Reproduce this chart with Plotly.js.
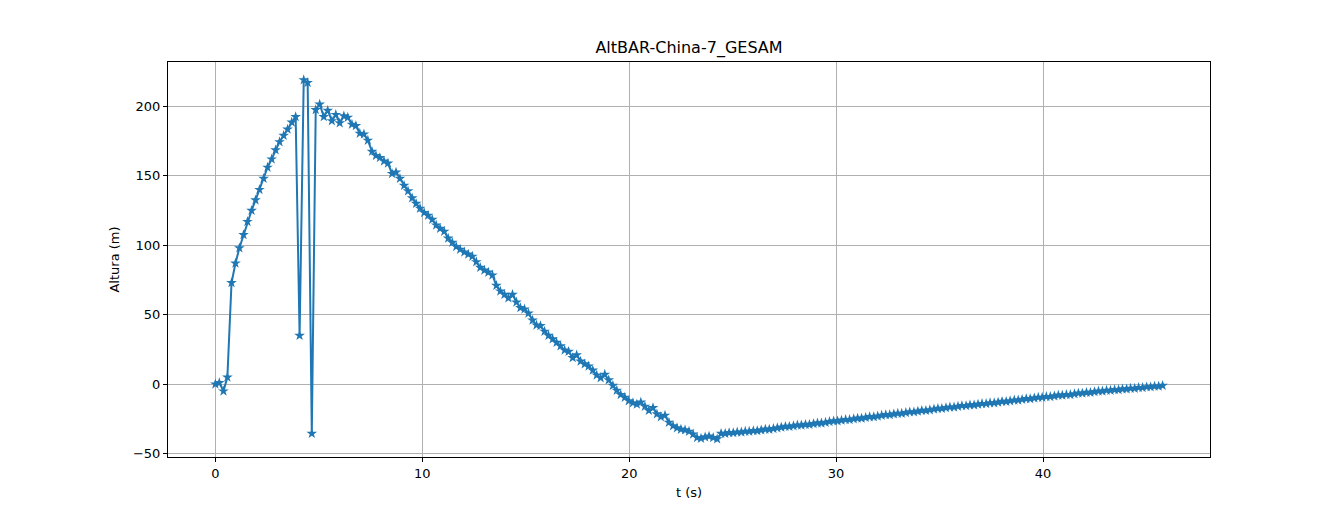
<!DOCTYPE html>
<html>
<head>
<meta charset="utf-8">
<script src="https://cdn.plot.ly/plotly-3.0.1.min.js"></script>
<style>
  html, body { margin: 0; padding: 0; background: white; }
  #chart { width: 1344px; height: 514px; }
</style>
</head>
<body>
<div id="chart"></div>
<script>
// sample times (s)
const tempo = [
  0, 0.19, 0.39, 0.58, 0.78, 0.97, 1.16, 1.36, 1.55, 1.75,
  1.94, 2.13, 2.33, 2.52, 2.72, 2.91, 3.10, 3.30, 3.49, 3.69,
  3.88, 4.07, 4.27, 4.46, 4.66, 4.85, 5.04, 5.24, 5.43, 5.63,
  5.82, 6.01, 6.21, 6.40, 6.60, 6.79, 6.98, 7.18, 7.37, 7.57,
  7.76, 7.95, 8.15, 8.34, 8.54, 8.73, 8.92, 9.12, 9.31, 9.51,
  9.70, 9.89, 10.09, 10.28, 10.48, 10.67, 10.86, 11.06, 11.25, 11.45,
  11.64, 11.83, 12.03, 12.22, 12.42, 12.61, 12.80, 13.00, 13.19, 13.39,
  13.58, 13.77, 13.97, 14.16, 14.36, 14.55, 14.74, 14.94, 15.13, 15.33,
  15.52, 15.71, 15.91, 16.10, 16.30, 16.49, 16.68, 16.88, 17.07, 17.27,
  17.46, 17.65, 17.85, 18.04, 18.24, 18.43, 18.62, 18.82, 19.01, 19.21,
  19.40, 19.59, 19.79, 19.98, 20.18, 20.37, 20.56, 20.76, 20.95, 21.15,
  21.34, 21.53, 21.73, 21.92, 22.12, 22.31, 22.50, 22.70, 22.89, 23.09,
  23.28, 23.47, 23.67, 23.86, 24.06, 24.25, 24.44, 24.64, 24.83, 25.03,
  25.22, 25.42, 25.61, 25.80, 26.00, 26.19, 26.38, 26.58, 26.77, 26.97,
  27.16, 27.35, 27.55, 27.74, 27.94, 28.13, 28.32, 28.52, 28.71, 28.91,
  29.10, 29.29, 29.49, 29.68, 29.88, 30.07, 30.26, 30.46, 30.65, 30.85,
  31.04, 31.23, 31.43, 31.62, 31.82, 32.01, 32.20, 32.40, 32.59, 32.79,
  32.98, 33.17, 33.37, 33.56, 33.76, 33.95, 34.14, 34.34, 34.53, 34.73,
  34.92, 35.11, 35.31, 35.50, 35.70, 35.89, 36.08, 36.28, 36.47, 36.67,
  36.86, 37.05, 37.25, 37.44, 37.64, 37.83, 38.02, 38.22, 38.41, 38.61,
  38.80, 38.99, 39.19, 39.38, 39.58, 39.77, 39.96, 40.16, 40.35, 40.55,
  40.74, 40.93, 41.13, 41.32, 41.52, 41.71, 41.90, 42.10, 42.29, 42.49,
  42.68, 42.87, 43.07, 43.26, 43.46, 43.65, 43.84, 44.04, 44.23, 44.43,
  44.62, 44.81, 45.01, 45.20, 45.39, 45.59, 45.78
];

// barometric altitude (m)
const altura = [
  0, 1, -5, 5, 73, 87, 98, 107.5, 117, 125,
  132.5, 140, 148, 156, 162, 168.5, 174.4, 179, 183.5, 188.5,
  192.5, 35, 219, 217, -35.5, 197.5, 201.5, 192.5, 197, 189.5,
  194, 188, 193, 192, 187, 186, 180.5, 180, 175.5, 167.5,
  164.5, 163, 160.5, 159, 151.5, 152.5, 148, 143, 139, 134,
  130, 126.5, 123.5, 121.5, 118.5, 114.5, 112, 110, 105, 102,
  99, 97, 95, 93.5, 92, 88, 84, 82, 80.5, 78.5,
  71, 67, 64.5, 62, 64.5, 59, 55, 54, 51, 46,
  42.5, 42, 38, 35, 32.5, 30, 27.5, 24.5, 23.5, 19,
  21, 16.5, 14.5, 13, 10, 6.5, 4.5, 7, 3, -1,
  -4.5, -7.5, -9.5, -12, -13.5, -14.5, -13, -16, -19, -17,
  -21.5, -23.5, -22.5, -27.5, -30, -31.5, -32.5, -33, -34, -36,
  -38.5, -39, -38, -37.5, -38.5, -39.5, -35.5, -35.5, -35, -35,
  -34.5, -34.5, -34, -34, -33.5, -33.5, -33, -32.5, -32.5, -32,
  -31.5, -31, -30.5, -30.5, -30, -29.5, -29.5, -29, -29, -28.5,
  -28, -28, -27.5, -27, -26.5, -26.5, -26, -25.5, -25.5, -25,
  -24.5, -24.5, -24, -23.5, -23.5, -23, -22.5, -22, -22, -21.5,
  -21, -21, -20.5, -20, -20, -19.5, -19, -19, -18.5, -18,
  -17.5, -17.5, -17, -16.5, -16.5, -16, -15.5, -15.5, -15, -15,
  -14.5, -14, -14, -13.5, -13.5, -13, -12.5, -12.5, -12, -11.5,
  -11.5, -11, -10.5, -10.5, -10, -9.5, -9.5, -9, -9, -8.5,
  -8, -8, -7.5, -7.5, -7, -6.5, -6.5, -6, -6, -5.5,
  -5, -5, -4.5, -4.5, -4, -4, -3.5, -3.5, -3, -3,
  -2.5, -2.5, -2, -2, -1.5, -1.5, -1
];

const xTicks = [0, 10, 20, 30, 40];
const yTicks = [-50, 0, 50, 100, 150, 200];

const FONT = 'DejaVu Sans, sans-serif';

const trace = {
  x: tempo, y: altura,
  type: 'scatter', mode: 'lines+markers',
  line: { color: '#1f77b4', width: 2 },
  marker: { symbol: 'star', size: 8, color: '#1f77b4', line: { width: 0 } },
  hoverinfo: 'x+y'
};

const axisCommon = {
  showgrid: true, gridcolor: '#b0b0b0', gridwidth: 1,
  showline: true, linecolor: 'black', linewidth: 1, mirror: true,
  zeroline: false,
  ticks: 'outside', ticklen: 4, tickwidth: 1, tickcolor: 'black',
  tickfont: { family: FONT, size: 13, color: 'black' }
};

const layout = {
  width: 1344, height: 514,
  margin: { l: 168, r: 134, t: 62, b: 57, pad: 0 },
  paper_bgcolor: 'white', plot_bgcolor: 'white',
  showlegend: false,
  title: {
    text: 'AltBAR-China-7_GESAM',
    font: { family: FONT, size: 16, color: 'black' },
    x: 0.5, xref: 'paper', xanchor: 'center',
    y: 1 - 47 / 514, yref: 'container', yanchor: 'middle'
  },
  xaxis: Object.assign({}, axisCommon, {
    range: [-2.29, 48.07],
    tickvals: xTicks,
    title: { text: 't (s)', font: { family: FONT, size: 13, color: 'black' }, standoff: 8 }
  }),
  yaxis: Object.assign({}, axisCommon, {
    range: [-52.4, 231.9],
    tickvals: yTicks,
    title: { text: 'Altura (m)', font: { family: FONT, size: 13, color: 'black' }, standoff: 10 }
  })
};

Plotly.newPlot('chart', [trace], layout, { displayModeBar: false, responsive: false });
</script>
</body>
</html>
